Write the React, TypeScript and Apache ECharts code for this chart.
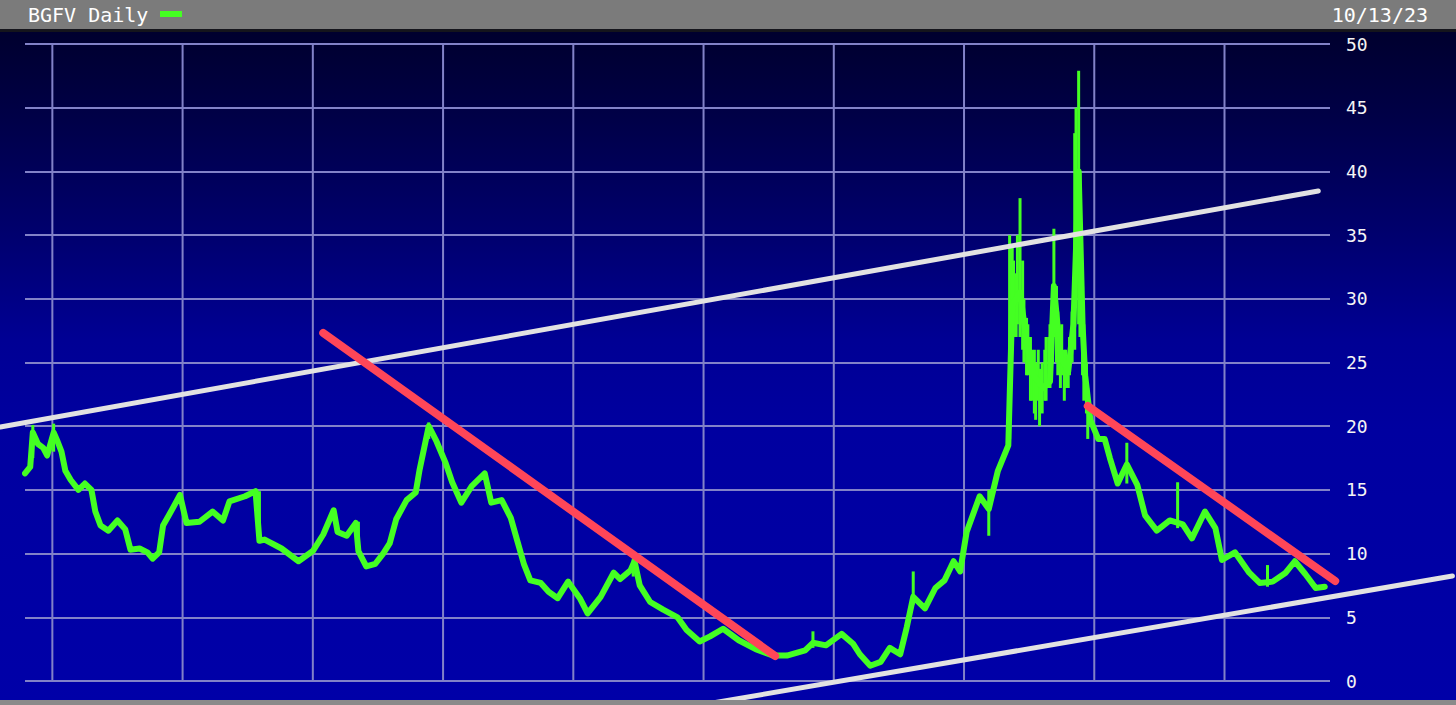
import React, { useEffect, useRef } from "react";
import * as echarts from "echarts";

const titleText = "BGFV Daily";
const dateText = "10/13/23";

// Year boundaries (vertical grid lines)
const yearLines = [2014, 2015, 2016, 2017, 2018, 2019, 2020, 2021, 2022, 2023];

// Price trace (decimal years / price)
const priceDates = [
  2013.79, 2013.83, 2013.85, 2013.89, 2013.93, 2013.96, 2014.01, 2014.04, 2014.07, 2014.10,
  2014.14, 2014.20, 2014.25, 2014.30, 2014.33, 2014.37, 2014.43, 2014.50, 2014.56, 2014.60,
  2014.67, 2014.73, 2014.77, 2014.82, 2014.85, 2014.90, 2014.98, 2015.03, 2015.13, 2015.23,
  2015.31, 2015.36, 2015.48, 2015.56, 2015.59, 2015.63, 2015.76, 2015.89, 2016.00, 2016.08,
  2016.16, 2016.19, 2016.26, 2016.33, 2016.35, 2016.41, 2016.48, 2016.54, 2016.59, 2016.64,
  2016.72, 2016.79, 2016.82, 2016.89, 2016.95, 2017.02, 2017.07, 2017.14, 2017.22, 2017.32,
  2017.37, 2017.45, 2017.52, 2017.57, 2017.62, 2017.67, 2017.75, 2017.81, 2017.88, 2017.96,
  2018.05, 2018.11, 2018.21, 2018.31, 2018.36, 2018.44, 2018.47, 2018.51, 2018.59, 2018.69,
  2018.80, 2018.87, 2018.97, 2019.05, 2019.15, 2019.27, 2019.40, 2019.53, 2019.64, 2019.78,
  2019.84, 2019.94, 2020.06, 2020.15, 2020.20, 2020.28, 2020.36, 2020.43, 2020.51, 2020.56,
  2020.61, 2020.70, 2020.78, 2020.85, 2020.92, 2020.97, 2021.02, 2021.12, 2021.19, 2021.26,
  2021.34, 2021.37, 2021.43, 2021.48, 2021.53, 2021.61, 2021.66, 2021.69, 2021.74, 2021.80,
  2021.84, 2021.88, 2021.91, 2021.93, 2021.97, 2022.03, 2022.08, 2022.12, 2022.18, 2022.25,
  2022.33, 2022.39, 2022.48, 2022.58, 2022.68, 2022.75, 2022.85, 2022.93, 2022.98, 2023.08,
  2023.19, 2023.27, 2023.37, 2023.47, 2023.54, 2023.62, 2023.70, 2023.77,
];
const priceValues = [
  16.3, 16.8, 19.5, 18.6, 18.3, 17.7, 19.5, 18.8, 18.0, 16.5,
  15.8, 15.0, 15.5, 15.0, 13.3, 12.2, 11.8, 12.6, 11.9, 10.3,
  10.4, 10.1, 9.6, 10.1, 12.2, 13.1, 14.6, 12.4, 12.5, 13.3,
  12.6, 14.1, 14.5, 14.9, 11.0, 11.1, 10.4, 9.4, 10.2, 11.5,
  13.4, 11.7, 11.4, 12.4, 10.2, 9.0, 9.2, 10.0, 10.8, 12.7,
  14.2, 14.8, 16.6, 20.0, 18.8, 17.1, 15.6, 14.0, 15.3, 16.3,
  14.0, 14.2, 12.8, 11.0, 9.2, 7.9, 7.7, 7.0, 6.5, 7.8,
  6.5, 5.3, 6.6, 8.5, 8.0, 8.7, 9.4, 7.5, 6.2, 5.6,
  5.0, 4.0, 3.1, 3.5, 4.1, 3.2, 2.5, 2.0, 2.0, 2.4,
  3.0, 2.8, 3.7, 2.9, 2.1, 1.2, 1.5, 2.6, 2.1, 4.2,
  6.6, 5.7, 7.3, 7.9, 9.4, 8.6, 11.7, 14.5, 13.5, 16.5,
  18.5, 29.5, 30.5, 26.7, 24.0, 23.0, 23.5, 31.0, 25.5, 24.3,
  28.0, 40.0, 28.0, 24.0, 20.5, 19.0, 19.0, 17.5, 15.5, 17.0,
  15.4, 13.0, 11.8, 12.6, 12.3, 11.2, 13.3, 12.0, 9.5, 10.1,
  8.5, 7.7, 7.8, 8.5, 9.4, 8.4, 7.3, 7.4,
];

// Daily high-low ranges that stand out from the trace
const spikeDates = [
  2013.85, 2014.01, 2015.59, 2016.35, 2016.89, 2018.46, 2019.84, 2020.61, 2021.19,
  2021.35, 2021.37, 2021.38, 2021.40, 2021.41, 2021.43, 2021.45, 2021.46, 2021.48, 2021.49,
  2021.51, 2021.52, 2021.54, 2021.55, 2021.57, 2021.58, 2021.60, 2021.62, 2021.63, 2021.65,
  2021.66, 2021.68, 2021.69, 2021.71, 2021.72, 2021.74, 2021.75, 2021.77, 2021.78, 2021.80,
  2021.81, 2021.83, 2021.85, 2021.86, 2021.88, 2021.89, 2021.91, 2021.92, 2021.94, 2021.95,
  2022.25, 2022.64, 2023.33,
];
const spikeLows = [
  17.5, 18.0, 11.0, 10.0, 19.0, 8.2, 2.6, 6.0, 11.4,
  19.0, 26.0, 27.0, 27.0, 28.0, 27.0, 26.0, 25.0, 24.0, 24.0,
  22.0, 22.0, 21.0, 20.5, 22.0, 20.0, 21.0, 22.0, 22.0, 23.0,
  23.0, 25.0, 27.0, 25.0, 24.0, 23.0, 24.0, 22.0, 23.0, 23.0,
  24.0, 25.0, 26.0, 30.0, 28.0, 27.0, 24.0, 22.0, 21.0, 19.0,
  15.5, 12.0, 7.4,
];
const spikeHighs = [
  20.1, 20.2, 14.9, 12.5, 20.3, 9.6, 3.9, 8.6, 15.0,
  35.0, 34.0, 33.0, 32.0, 35.0, 37.9, 33.0, 30.0, 28.5, 28.0,
  27.0, 26.0, 26.0, 25.0, 26.0, 24.5, 25.0, 26.0, 27.0, 27.0,
  28.0, 31.0, 35.5, 31.0, 29.0, 27.0, 28.0, 26.0, 26.0, 25.5,
  27.0, 29.0, 43.0, 45.0, 47.9, 40.0, 31.0, 28.0, 25.0, 23.0,
  18.7, 15.6, 9.1,
];

// Trend lines drawn on the chart: [x1, y1, x2, y2]
const whiteTrendLines = [
  [2013.6, 19.94, 2023.72, 38.46],
  [2019.07, -1.73, 2024.75, 8.24],
];
const redTrendLines = [
  [2016.08, 27.32, 2019.55, 1.96],
  [2021.95, 21.59, 2023.85, 7.85],
];

const GREEN = "#44ff22";
const GRID = "#8282c8";
const MONO = "'DejaVu Sans Mono', 'Liberation Mono', monospace";

export default function App() {
  const ref = useRef<HTMLDivElement>(null);

  useEffect(() => {
    const chart = echarts.init(ref.current!, null, { renderer: "svg" });

    const vline = (color: string, width: number) => (params: any, api: any) => {
      const a = api.coord([api.value(0), api.value(1)]);
      const b = api.coord([api.value(0), api.value(2)]);
      return {
        type: "line",
        shape: { x1: a[0], y1: a[1], x2: b[0], y2: b[1] },
        style: { stroke: color, lineWidth: width },
      };
    };

    const segment = (color: string, width: number) => (params: any, api: any) => {
      const a = api.coord([api.value(0), api.value(1)]);
      const b = api.coord([api.value(2), api.value(3)]);
      return {
        type: "line",
        shape: { x1: a[0], y1: a[1], x2: b[0], y2: b[1] },
        style: { stroke: color, lineWidth: width, lineCap: "round" },
      };
    };

    chart.setOption({
      animation: false,
      backgroundColor: "transparent",
      grid: { left: 25, right: 126, top: 44, bottom: 24 },
      xAxis: { type: "value", min: 2013.79, max: 2023.81, show: false },
      yAxis: {
        type: "value",
        position: "right",
        min: 0,
        max: 50,
        interval: 5,
        axisLine: { show: false },
        axisTick: { show: false },
        axisLabel: { color: "#f4f4f4", fontSize: 18, fontFamily: MONO, margin: 16 },
        splitLine: { lineStyle: { color: GRID, width: 2 } },
      },
      series: [
        {
          type: "custom",
          name: "years",
          silent: true,
          z: 1,
          data: yearLines.map((t) => [t, 0, 50]),
          encode: { x: 0, y: [1, 2] },
          renderItem: vline(GRID, 2),
        },
        {
          type: "custom",
          name: "range",
          silent: true,
          z: 3,
          data: spikeDates.map((t, i) => [t, spikeLows[i], spikeHighs[i]]),
          encode: { x: 0, y: [1, 2] },
          renderItem: vline(GREEN, 3),
        },
        {
          type: "line",
          name: "BGFV",
          data: priceDates.map((t, i) => [t, priceValues[i]]),
          symbol: "none",
          showSymbol: false,
          z: 4,
          lineStyle: { color: GREEN, width: 6, join: "round", cap: "round" },
        },
        {
          type: "custom",
          name: "channel",
          silent: true,
          clip: false,
          z: 10,
          data: whiteTrendLines,
          encode: { x: [0, 2], y: [1, 3] },
          renderItem: segment("#e2e2e2", 5),
        },
        {
          type: "custom",
          name: "downtrend",
          silent: true,
          clip: false,
          z: 11,
          data: redTrendLines,
          encode: { x: [0, 2], y: [1, 3] },
          renderItem: segment("#ff4658", 8),
        },
      ],
      graphic: [
        { type: "rect", z: 100, shape: { x: 0, y: 0, width: 1456, height: 29 }, style: { fill: "#7b7b7b" } },
        { type: "rect", z: 100, shape: { x: 0, y: 29, width: 1456, height: 3 }, style: { fill: "#15151c" } },
        { type: "rect", z: 100, shape: { x: 0, y: 700, width: 1456, height: 5 }, style: { fill: "#8a8a8a" } },
        {
          type: "text",
          z: 101,
          x: 28,
          y: 15,
          style: { text: titleText, fill: "#ffffff", font: `20px ${MONO}`, textVerticalAlign: "middle", verticalAlign: "middle" },
        },
        { type: "rect", z: 101, shape: { x: 160, y: 11, width: 22, height: 6 }, style: { fill: GREEN } },
        {
          type: "text",
          z: 101,
          x: 1428,
          y: 15,
          style: {
            text: dateText,
            fill: "#ffffff",
            font: `20px ${MONO}`,
            textAlign: "right",
            align: "right",
            textVerticalAlign: "middle",
            verticalAlign: "middle",
          },
        },
      ],
    });

    return () => chart.dispose();
  }, []);

  return (
    <div
      ref={ref}
      style={{
        position: "fixed",
        left: 0,
        top: 0,
        width: 1456,
        height: 705,
        background:
          "linear-gradient(to bottom, #00001e 0px, #00002e 32px, #000048 120px, #000070 240px, #000094 340px, #0000a0 430px, #0000a8 705px)",
      }}
    />
  );
}
